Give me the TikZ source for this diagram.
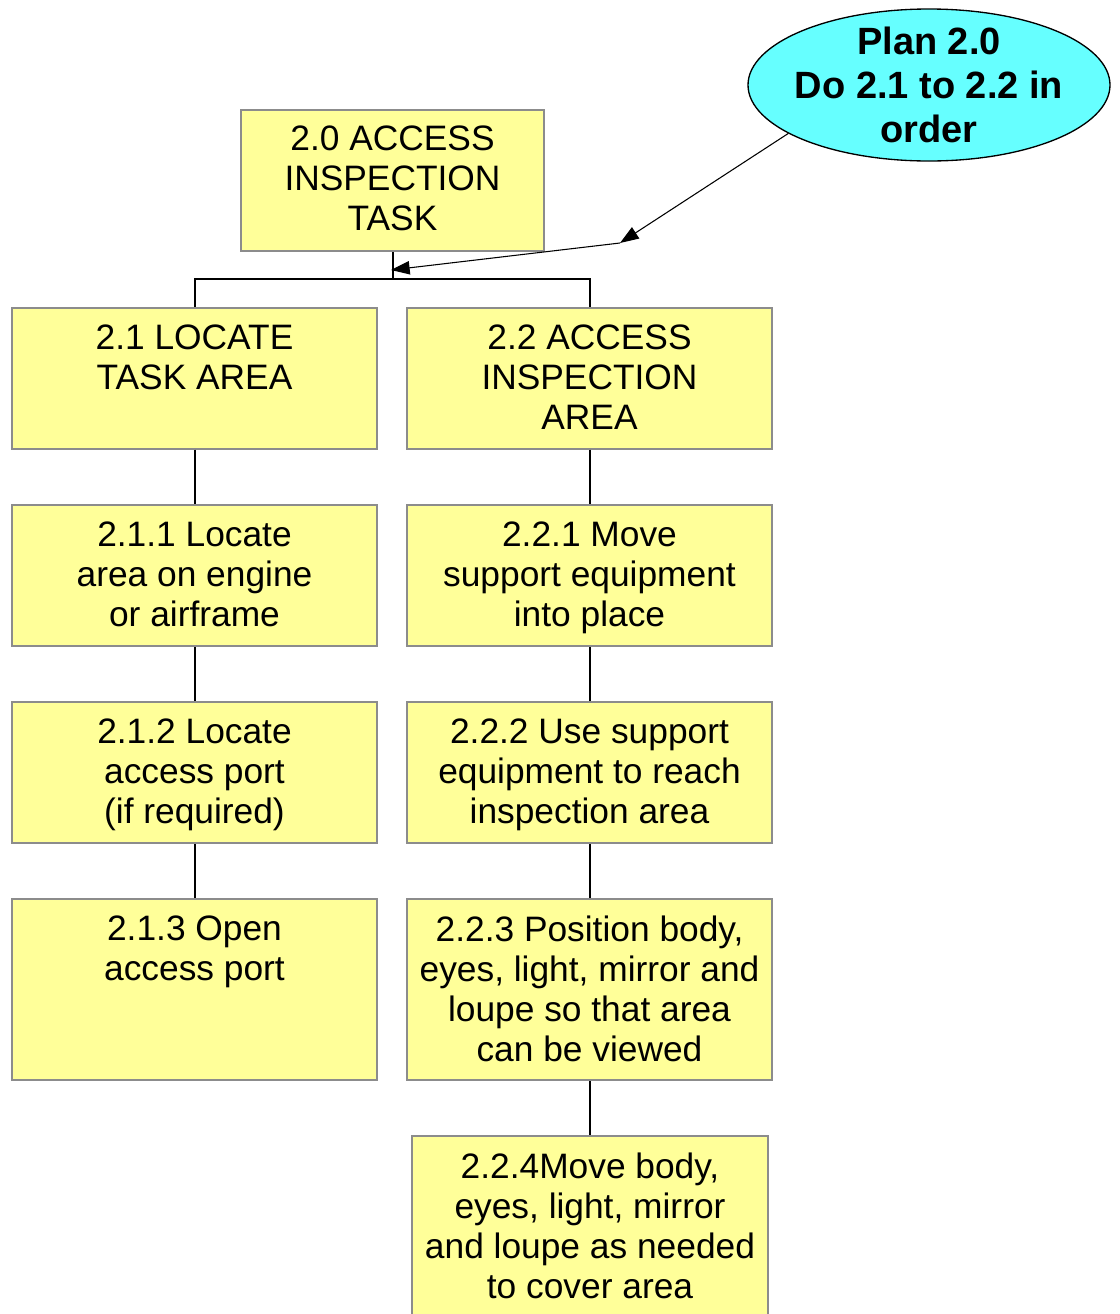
\documentclass[tikz,border=0pt]{standalone}
\usepackage{fontspec}
\setmainfont{Liberation Sans}
\usetikzlibrary{arrows.meta,shapes.geometric}

\definecolor{boxfill}{RGB}{255,255,153}
\definecolor{boxline}{RGB}{140,140,140}
\definecolor{planfill}{RGB}{102,255,255}

\tikzset{
  taskbox/.style={draw=boxline, fill=boxfill, line width=1.5pt, inner sep=0pt,
    minimum width=273.75pt, minimum height=105.75pt},
  tasktext/.style={anchor=north, align=center, inner sep=0pt,
    font=\fontsize{26.5}{30}\selectfont},
  conn/.style={draw=black, line width=1.5pt},
  planarrow/.style={draw=black, line width=0.8pt,
    -{Triangle[length=14pt,width=10pt]}},
  planshape/.style={ellipse, draw=black, fill=planfill, line width=1pt,
    inner sep=0pt, minimum width=271.5pt, minimum height=114pt},
  plantext/.style={align=center, inner sep=0pt,
    font=\fontsize{28.5}{33}\selectfont\bfseries}
}

\begin{document}
\begin{tikzpicture}[x=0.75pt, y=-0.75pt]
  \clip (0,0) rectangle (1120,1314);
  \fill[white] (0,0) rectangle (1120,1314);

  % task boxes
  \node[taskbox, minimum width=227.25pt] (b20) at (392.5,180.5) {};
  \node[taskbox] (b21)  at (194.5,378) {};
  \node[taskbox] (b22)  at (589.5,378) {};
  \node[taskbox] (b211) at (194.5,575.5) {};
  \node[taskbox] (b221) at (589.5,575.5) {};
  \node[taskbox] (b212) at (194.5,772.5) {};
  \node[taskbox] (b222) at (589.5,772.5) {};
  \node[taskbox, minimum height=135.75pt] (b213) at (194.5,989.5) {};
  \node[taskbox, minimum height=135.75pt] (b223) at (589.5,989.5) {};
  \node[taskbox, minimum width=267pt, minimum height=150pt] (b224) at (590,1236) {};

  % box captions, set from the top edge
  \node[tasktext] (t20)  at ([yshift=-12.75pt]b20.north)  {2.0 ACCESS\\INSPECTION\\TASK};
  \node[tasktext] (t21)  at ([yshift=-13.5pt]b21.north)  {2.1 LOCATE\\TASK AREA};
  \node[tasktext] (t22)  at ([yshift=-13.5pt]b22.north)  {2.2 ACCESS\\INSPECTION\\AREA};
  \node[tasktext] (t211) at ([yshift=-13.5pt]b211.north) {2.1.1 Locate\\area on engine\\or airframe};
  \node[tasktext] (t221) at ([yshift=-13.5pt]b221.north) {2.2.1 Move\\support equipment\\into place};
  \node[tasktext] (t212) at ([yshift=-13.5pt]b212.north) {2.1.2 Locate\\access port\\(if required)};
  \node[tasktext] (t222) at ([yshift=-13.5pt]b222.north) {2.2.2 Use support\\equipment to reach\\inspection area};
  \node[tasktext] (t213) at ([yshift=-13.5pt]b213.north) {2.1.3 Open\\access port};
  \node[tasktext] (t223) at ([yshift=-13.5pt]b223.north) {2.2.3 Position body,\\eyes, light, mirror and\\loupe so that area\\can be viewed};
  \node[tasktext] (t224) at ([yshift=-13.5pt]b224.north) {2.2.4Move body,\\eyes, light, mirror\\and loupe as needed\\to cover area};

  % tree connectors
  \coordinate (bar) at (392.5,279);
  \draw[conn] (b20.south) -- (bar);
  \draw[conn] (b21.north) -- (b21.north |- bar) -- (b22.north |- bar) -- (b22.north);
  \draw[conn] (b21.south) -- (b211.north);
  \draw[conn] (b211.south) -- (b212.north);
  \draw[conn] (b212.south) -- (b213.north);
  \draw[conn] (b22.south) -- (b221.north);
  \draw[conn] (b221.south) -- (b222.north);
  \draw[conn] (b222.south) -- (b223.north);
  \draw[conn] (b223.south) -- (b223.south |- b224.north);

  % plan callout
  \node[planshape] (plan) at (929,85) {};
  \node[plantext] (plantxt) at (plan.center) {Plan 2.0\\Do 2.1 to 2.2 in\\order};
  \coordinate (bend) at (620,243);
  \coordinate (planend) at (391,270);
  \draw[planarrow] (plan.199) -- (bend);
  \draw[planarrow] (bend) -- (planend);
\end{tikzpicture}
\end{document}
